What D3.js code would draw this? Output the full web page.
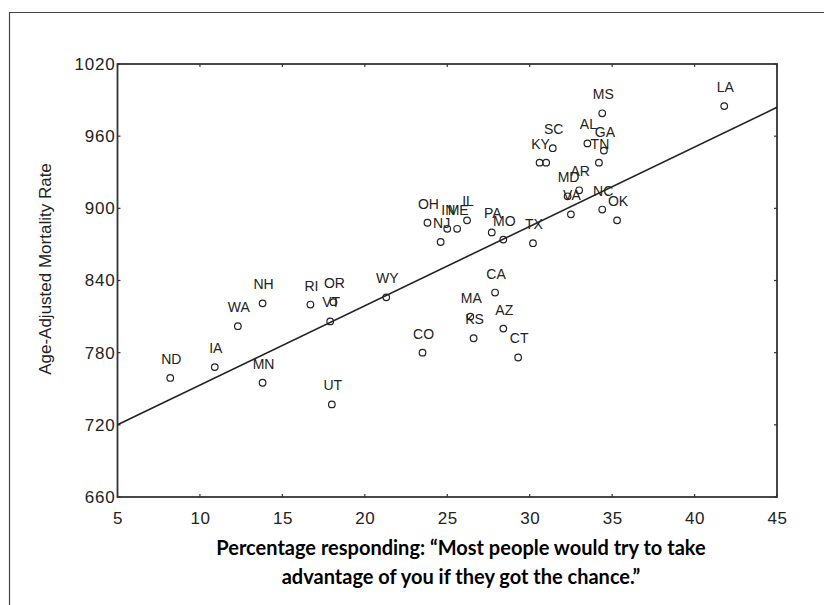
<!DOCTYPE html>
<html>
<head>
<meta charset="utf-8">
<script src="https://cdn.jsdelivr.net/npm/d3@7"></script>
<style>
  html, body { margin: 0; padding: 0; background: #fff; }
  svg { display: block; }
</style>
</head>
<body>
<svg id="chart" width="824" height="605"></svg>
<script>
// ---- data ----
const states = ["ND","IA","WA","NH","MN","RI","OR","VT","UT","WY","CO","KS","MA","CA","AZ","CT",
                "OH","IN","ME","IL","NJ","PA","MO","TX","KY","","SC","MS","AL","GA","TN","AR","MD","VA","NC","OK","LA"];
const mistrust = [8.2,10.9,12.3,13.8,13.8,16.7,18.1,17.9,18.0,21.3,23.5,26.6,26.4,27.9,28.4,29.3,
                  23.8,25.0,25.6,26.2,24.6,27.7,28.4,30.2,30.6,31.0,31.4,34.4,33.5,34.5,34.2,33.0,32.3,32.5,34.4,35.3,41.8];
const mortality = [759,768,802,821,755,820,822,806,737,826,780,792,810,830,800,776,
                   888,883,883,890,872,880,874,871,938,938,950,979,954,948,938,915,910,895,899,890,985];
const fitX = [5, 45];
const fitY = [720, 984];
const xTicks = [5,10,15,20,25,30,35,40,45];
const yTicks = [660,720,780,840,900,960,1020];
const yTitle = "Age-Adjusted Mortality Rate";
const xTitle = ["Percentage responding: \u201CMost people would try to take",
                "advantage of you if they got the chance.\u201D"];

// ---- layout ----
const svg = d3.select("#chart");
const L = 117.5, R = 777, T = 64, B = 497;
const x = d3.scaleLinear().domain([5, 45]).range([L, R]);
const y = d3.scaleLinear().domain([660, 1020]).range([B, T]);

// outer frame
svg.append("path")
  .attr("d", `M9.5,605 L9.5,12.5 L824,12.5`)
  .attr("fill", "none").attr("stroke", "#444").attr("stroke-width", 1.2);

const axisFont = "'Liberation Sans', Arial, sans-serif";

// x axis
const gx = svg.append("g").attr("transform", `translate(0,${B})`)
  .call(d3.axisBottom(x).tickValues(xTicks).tickSize(0).tickPadding(15).tickFormat(d3.format("d")));
gx.select(".domain").remove();
gx.selectAll("text").attr("font-family", axisFont).attr("font-size", 17).attr("fill", "#222")
  .attr("letter-spacing", 0.5);

// y axis
const gy = svg.append("g").attr("transform", `translate(${L},0)`)
  .call(d3.axisLeft(y).tickValues(yTicks).tickSize(0).tickPadding(2).tickFormat(d3.format("d")));
gy.select(".domain").remove();
gy.selectAll("text").attr("font-family", axisFont).attr("font-size", 17).attr("fill", "#222")
  .attr("letter-spacing", 0.8);

// plot box
svg.append("rect").attr("x", L).attr("y", T).attr("width", R - L).attr("height", B - T)
  .attr("fill", "none").attr("stroke", "#333").attr("stroke-width", 1.8);

// small inner ticks on all sides
const tk = svg.append("g").attr("stroke", "#333").attr("stroke-width", 1.2);
xTicks.forEach(v => {
  tk.append("line").attr("x1", x(v)).attr("x2", x(v)).attr("y1", B).attr("y2", B - 3);
  tk.append("line").attr("x1", x(v)).attr("x2", x(v)).attr("y1", T).attr("y2", T + 3);
});
yTicks.forEach(v => {
  tk.append("line").attr("x1", L).attr("x2", L + 3).attr("y1", y(v)).attr("y2", y(v));
  tk.append("line").attr("x1", R).attr("x2", R - 3).attr("y1", y(v)).attr("y2", y(v));
});

// regression line
svg.append("line")
  .attr("x1", x(fitX[0])).attr("y1", y(fitY[0]))
  .attr("x2", x(fitX[1])).attr("y2", y(fitY[1]))
  .attr("stroke", "#222").attr("stroke-width", 1.6);

// points
const data = states.map((s, i) => ({ s, xv: mistrust[i], yv: mortality[i] }));
svg.append("g").selectAll("circle").data(data).join("circle")
  .attr("cx", d => x(d.xv)).attr("cy", d => y(d.yv)).attr("r", 3.3)
  .attr("fill", "none").attr("stroke", "#222").attr("stroke-width", 1.2);

svg.append("g").selectAll("text").data(data).join("text")
  .attr("x", d => x(d.xv) + 1).attr("y", d => y(d.yv) - 14)
  .attr("text-anchor", "middle")
  .attr("font-family", axisFont).attr("font-size", 14).attr("fill", "#222")
  .text(d => d.s);

// y title
svg.append("text")
  .attr("transform", `translate(51,269) rotate(-90)`)
  .attr("text-anchor", "middle")
  .attr("font-family", axisFont).attr("font-size", 17).attr("fill", "#222")
  .text(yTitle);

// x title
svg.append("g").selectAll("text").data(xTitle).join("text")
  .attr("x", 461).attr("y", (d, i) => 555 + i * 29)
  .attr("text-anchor", "middle")
  .attr("font-family", "Lato, 'Open Sans', sans-serif").attr("font-weight", "bold")
  .attr("font-size", 20).attr("fill", "#000")
  .text(d => d);
</script>
</body>
</html>
